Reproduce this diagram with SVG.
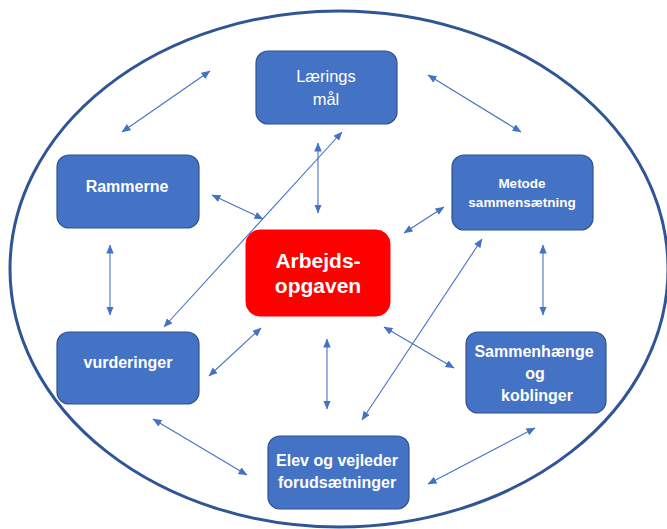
<svg xmlns="http://www.w3.org/2000/svg" width="667" height="529" viewBox="0 0 667 529">
<defs>
<marker id="ah" markerWidth="9" markerHeight="8" refX="8.5" refY="3.75" orient="auto-start-reverse" markerUnits="userSpaceOnUse">
<path d="M0,0 L9,3.75 L0,7.5 z" fill="#4472C4"/>
</marker>
<style>
.box{fill:#4472C4;stroke:#2F528F;stroke-width:1.2}
.red{fill:#FF0000;stroke:#FF0000;stroke-width:1}
.t{fill:#FFFFFF;font-family:"Liberation Sans",Arial,sans-serif;font-weight:bold;font-size:16px;text-anchor:middle}
.c line{stroke:#4472C4;stroke-width:1.1;marker-start:url(#ah);marker-end:url(#ah)}
</style>
</defs>
<rect width="667" height="529" fill="#FFFFFF"/>
<ellipse cx="339" cy="269" rx="329" ry="258" fill="none" stroke="#2F5597" stroke-width="3"/>
<g id="n-laerings">
<rect class="box" x="256" y="51" width="141" height="73" rx="12"/>
<text class="t" x="326" y="82" style="font-weight:normal;font-size:16.5px">Lærings</text>
<text class="t" x="326" y="105" style="font-weight:normal;font-size:16.5px">mål</text>
</g>
<g id="n-rammerne">
<rect class="box" x="57" y="155" width="142" height="73" rx="12"/>
<text class="t" x="127" y="192">Rammerne</text>
</g>
<g id="n-metode">
<rect class="box" x="452" y="155" width="141" height="75" rx="12"/>
<text class="t" x="522" y="188" style="font-size:13.5px">Metode</text>
<text class="t" x="522" y="207" style="font-size:13.5px">sammensætning</text>
</g>
<g id="n-arbejds">
<rect class="red" x="246" y="230" width="144" height="86" rx="14"/>
<text class="t" x="318" y="268" style="font-size:21px">Arbejds-</text>
<text class="t" x="318" y="293" style="font-size:21px">opgaven</text>
</g>
<g id="n-vurderinger">
<rect class="box" x="57" y="332" width="142" height="72" rx="12"/>
<text class="t" x="128" y="368">vurderinger</text>
</g>
<g id="n-sammenhaenge">
<rect class="box" x="466" y="332" width="140" height="81" rx="12"/>
<text class="t" x="534" y="357">Sammenhænge</text>
<text class="t" x="535" y="379">og</text>
<text class="t" x="537" y="401">koblinger</text>
</g>
<g id="n-elev">
<rect class="box" x="268" y="436" width="141" height="73" rx="12"/>
<text class="t" x="337" y="466">Elev og vejleder</text>
<text class="t" x="337" y="488">forudsætninger</text>
</g>
<g id="connectors" class="c">
<line x1="210" y1="71" x2="122" y2="132"/>
<line x1="428" y1="75" x2="521" y2="132"/>
<line x1="318" y1="143" x2="318" y2="213"/>
<line x1="342" y1="132" x2="164" y2="327"/>
<line x1="212" y1="195" x2="263" y2="219"/>
<line x1="444" y1="207" x2="404" y2="233"/>
<line x1="482" y1="239" x2="362" y2="420"/>
<line x1="110" y1="245" x2="110" y2="315"/>
<line x1="543" y1="245" x2="543" y2="315"/>
<line x1="261" y1="328" x2="209" y2="376"/>
<line x1="327" y1="339" x2="327" y2="409"/>
<line x1="384" y1="327" x2="454" y2="368"/>
<line x1="153" y1="419" x2="247" y2="475"/>
<line x1="428" y1="484" x2="535" y2="428"/>
</g>
</svg>
